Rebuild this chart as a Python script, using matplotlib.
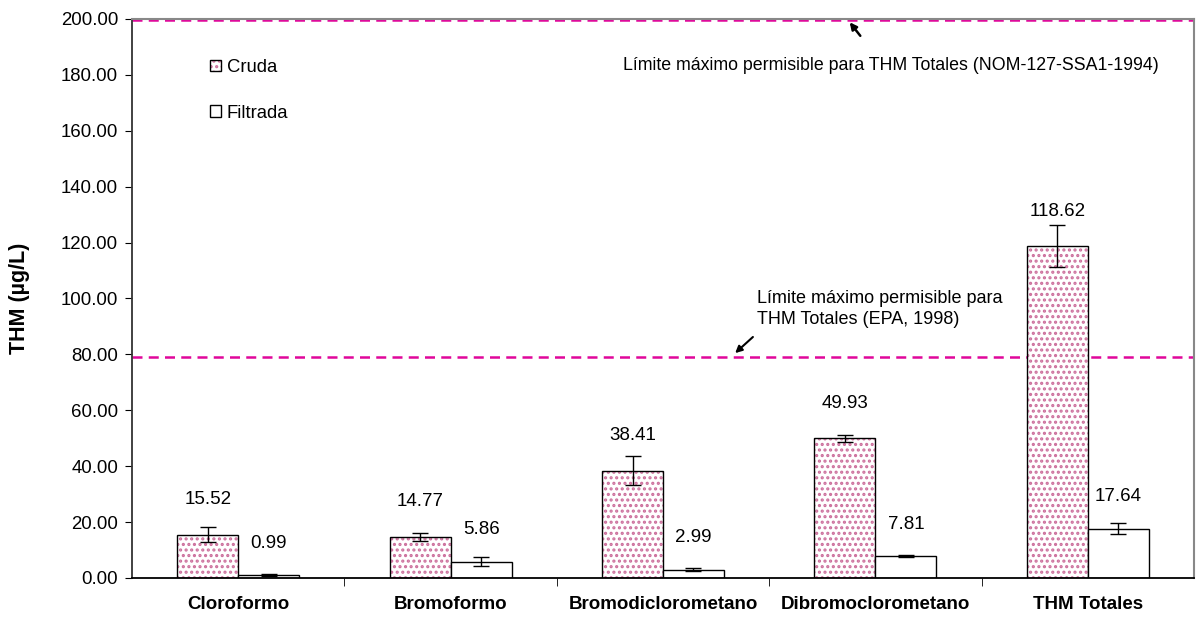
import numpy as np
import matplotlib.pyplot as plt
from matplotlib.patches import Patch
from matplotlib.legend_handler import HandlerTuple
from matplotlib.ticker import FixedLocator, FormatStrFormatter

plt.rcParams['font.family'] = ['Liberation Sans', 'DejaVu Sans']
plt.rcParams['hatch.linewidth'] = 1.5

compuestos = ['Cloroformo', 'Bromoformo', 'Bromodiclorometano',
              'Dibromoclorometano', 'THM Totales']
cruda = [15.52, 14.77, 38.41, 49.93, 118.62]
cruda_err = [2.7, 1.5, 5.2, 1.4, 7.5]
filtrada = [0.99, 5.86, 2.99, 7.81, 17.64]
filtrada_err = [0.4, 1.5, 0.6, 0.4, 2.0]

lim_nom = 199.6
lim_epa = 79.0

fig = plt.figure(figsize=(11.98, 6.17), dpi=100)
ax = fig.add_axes([132 / 1198, 1 - 578 / 617, 1062 / 1198, 559 / 617])

x = np.arange(len(compuestos))
w = 0.287
rosa = '#cc6f9c'

# relleno punteado rosa y contorno negro por separado
ax.bar(x - w / 2, cruda, w, color='white', edgecolor=rosa, linewidth=0,
       hatch='...', zorder=2)
ax.bar(x - w / 2, cruda, w, fill=False, edgecolor='black', linewidth=1.0, zorder=2)
ax.bar(x + w / 2, filtrada, w, color='white', edgecolor='black',
       linewidth=1.0, zorder=2)
ax.errorbar(x - w / 2, cruda, yerr=cruda_err, fmt='none', ecolor='black',
            elinewidth=1.0, capsize=6, capthick=1.0, zorder=3)
ax.errorbar(x + w / 2, filtrada, yerr=filtrada_err, fmt='none', ecolor='black',
            elinewidth=1.0, capsize=6, capthick=1.0, zorder=3)

# etiquetas de valor sobre cada barra
for xi, v in zip(x - w / 2, cruda):
    ax.annotate(f'{v:.2f}', (xi, v), xytext=(0, 25), textcoords='offset points',
                ha='center', va='center', fontsize=13.5)
for xi, v in zip(x + w / 2, filtrada):
    ax.annotate(f'{v:.2f}', (xi, v), xytext=(0, 23), textcoords='offset points',
                ha='center', va='center', fontsize=13.5)

# límites normativos
ax.axhline(lim_nom, color='#e0079a', linestyle=(0, (4, 2.5)), linewidth=1.8, zorder=1)
ax.axhline(lim_epa, color='#e0079a', linestyle=(0, (4, 2.5)), linewidth=1.8, zorder=1)

ax.annotate('', xy=(2.871, 199.6), xytext=(2.937, 193.2),
            arrowprops=dict(arrowstyle='-|>', color='black', lw=1.8,
                            mutation_scale=10))
ax.text(1.812, 183.2, 'Límite máximo permisible para THM Totales (NOM-127-SSA1-1994)',
        ha='left', va='center', fontsize=12.8)
ax.annotate('', xy=(2.33, 79.8), xytext=(2.433, 86.9),
            arrowprops=dict(arrowstyle='-|>', color='black', lw=1.5,
                            mutation_scale=10))
ax.text(2.443, 96.3, 'Límite máximo permisible para\nTHM Totales (EPA, 1998)',
        ha='left', va='center', fontsize=13, linespacing=1.3)

ax.set_xlim(-0.5, len(compuestos) - 0.5)
ax.set_ylim(0, 200)
ax.yaxis.set_major_locator(FixedLocator(np.arange(0, 201, 20)))
ax.yaxis.set_major_formatter(FormatStrFormatter('%.2f'))
ax.tick_params(axis='y', direction='out', length=5, labelsize=13.4, pad=5)

ax.set_xticks(x)
ax.set_xticklabels(compuestos, fontsize=13.5, fontweight='bold')
ax.tick_params(axis='x', which='major', length=0, pad=13)
ax.set_xticks(np.arange(0.5, len(compuestos) - 0.5, 1), minor=True)
ax.tick_params(axis='x', which='minor', direction='out', length=6)

ax.set_ylabel('THM (µg/L)', fontsize=15.5, fontweight='bold')
ax.yaxis.set_label_coords(-0.096, 0.5)

for s in ['top', 'right']:
    ax.spines[s].set_color('#888888')
    ax.spines[s].set_linewidth(1.5)
ax.spines['left'].set_color('#333333')
ax.spines['left'].set_linewidth(1.3)
ax.spines['bottom'].set_linewidth(1.3)

# leyenda con cuadros pequeños
h_cruda = (Patch(facecolor='white', edgecolor=rosa, hatch='...', linewidth=0),
           Patch(fill=False, edgecolor='black', linewidth=1.0))
h_filtrada = Patch(facecolor='white', edgecolor='black', linewidth=1.0)
leg = ax.legend([h_cruda, h_filtrada], ['Cruda', 'Filtrada'], loc='upper left',
                bbox_to_anchor=(0.058, 0.958), frameon=False, fontsize=13.3,
                handlelength=0.6, handleheight=0.6, handletextpad=0.3,
                labelspacing=1.55, handler_map={tuple: HandlerTuple(ndivide=1)})

fig.savefig('out.png', dpi=100)
